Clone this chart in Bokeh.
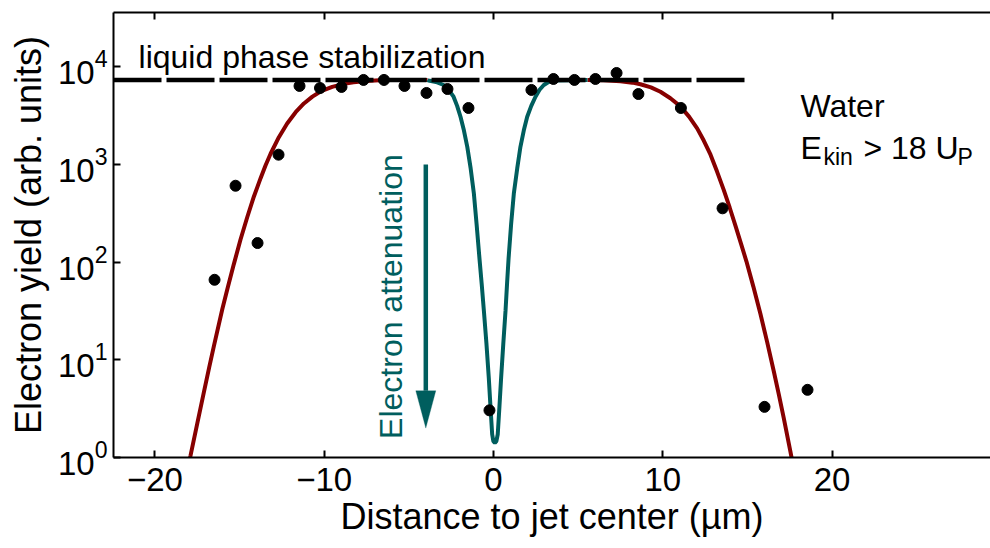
import math
from bokeh.plotting import figure
from bokeh.models import (Range1d, LinearAxis, FixedTicker, Label, PolyAnnotation)
from bokeh.embed import file_html
from bokeh.resources import INLINE

pos_x = [-16.48, -15.24, -13.94, -12.70, -11.46, -10.25, -8.98, -7.68, -6.47,
         -5.26, -3.96, -2.72, -1.48, -0.24, 2.24, 3.54, 4.78, 6.02, 7.27, 8.56,
         11.07, 13.53, 16.01, 18.55]
yield_y = [66, 606, 157, 1260, 6370, 6070, 6220, 7340, 7340, 6370, 5400, 5930,
           3790, 3.04, 5800, 7510, 7340, 7510, 8650, 5270, 3790, 356, 3.30, 4.93]

# fitted model curves
red_left_x = [-18.05, -17.90, -17.50, -17.11, -16.80, -16.52, -16.02, -15.70,
              -15.34, -14.95, -14.55, -14.16, -13.76, -13.47, -13.17, -12.68,
              -12.19, -11.69, -11.20, -10.70, -10.22, -9.53, -8.84, -8.27,
              -7.50, -6.50, -5.50, -3.90]
red_left_y = [0.794, 1.047, 2.239, 4.677, 8.318, 13.80, 33.11, 54.95, 95.50,
              169.8, 288.4, 467.7, 724.4, 977.2, 1288, 1905, 2630, 3428, 4217,
              4955, 5598, 6237, 6699, 6966, 7178, 7311, 7345, 7345]
teal_x = [-3.90, -3.84, -3.40, -2.95, -2.65, -2.36, -2.15, -1.95, -1.75, -1.55,
          -1.35, -1.16, -1.00, -0.83, -0.70, -0.57, -0.42, -0.28, -0.18, -0.08,
          -0.01, 0.08, 0.17, 0.25, 0.35, 0.45, 0.58, 0.71, 0.80, 0.89, 1.04,
          1.20, 1.40, 1.59, 1.79, 1.99, 2.23, 2.48, 2.72, 2.97, 3.25, 3.56, 5.55]
teal_y = [7345, 7244, 6998, 6516, 5821, 4943, 3981, 3083, 2239, 1517, 912, 504,
          245.5, 109.1, 60.3, 31.9, 14.8, 6.59, 3.31, 1.73, 1.472, 1.413, 1.472,
          1.73, 3.31, 6.59, 14.8, 31.9, 60.3, 109.1, 245.5, 504, 912, 1517, 2239,
          3083, 3981, 4943, 5821, 6516, 6998, 7244, 7345]
red_right_x = [5.55, 6.50, 7.50, 8.20, 8.68, 9.30, 9.86, 10.45, 11.04, 11.55,
               12.03, 12.42, 12.82, 13.20, 13.60, 13.95, 14.30, 14.62, 14.94,
               15.35, 15.77, 16.17, 16.56, 16.86, 17.15, 17.54, 17.65]
red_right_y = [7345, 7278, 7112, 6887, 6637, 6166, 5559, 4764, 3936, 3090, 2344,
               1758, 1259, 851, 550, 363, 234, 155, 102, 56.2, 29.5, 15.1, 7.59,
               4.37, 2.51, 1.148, 0.912]

stab_x = [-22.45, 14.95]
stab_y = [7340, 7340]

x_ticks = [-20, -10, 0, 10, 20]
x_tick_labels = {-20: "\u221220", -10: "\u221210", 0: "0", 10: "10", 20: "20"}
y_ticks = [1, 10, 100, 1000, 10000]

RED = "#870000"
TEAL = "#005E5E"
FONT = "Liberation Sans"

p = figure(width=990, height=548, y_axis_type="log",
           x_range=Range1d(-22.45, 29.36), y_range=Range1d(1, 36000),
           output_backend="svg", toolbar_location=None,
           min_border_left=113, min_border_right=0, min_border_top=12,
           min_border_bottom=91, outline_line_color=None)
p.grid.visible = False
p.background_fill_color = "white"
p.border_fill_color = "white"

xa = p.xaxis[0]
xa.ticker = FixedTicker(ticks=x_ticks)
xa.major_label_overrides = x_tick_labels
xa.axis_label = "Distance to jet center (\u00b5m)"
ya = p.yaxis[0]
ya.ticker = FixedTicker(ticks=y_ticks)
ya.axis_label = "Electron yield (arb. units)"

for ax in (xa, ya):
    ax.major_tick_in = 7
    ax.major_tick_out = 0
    ax.minor_tick_line_color = None
    ax.axis_line_width = 2
    ax.major_tick_line_width = 2
    ax.axis_line_color = "black"
    ax.major_tick_line_color = "black"
    ax.major_label_text_font = FONT
    ax.major_label_text_font_size = "33px"
    ax.major_label_text_color = "black"
    ax.axis_label_text_font = FONT
    ax.axis_label_text_font_style = "normal"
    ax.axis_label_text_color = "black"
    ax.axis_label_text_font_size = "36px"

xa.major_label_standoff = 10
xa.axis_label_standoff = 2
ya.major_label_standoff = 6
ya.axis_label_standoff = 6

top = LinearAxis(ticker=FixedTicker(ticks=x_ticks), major_tick_in=7,
                 major_tick_out=0, minor_tick_line_color=None,
                 axis_line_width=2, major_tick_line_width=2,
                 major_label_text_font_size="0px", major_label_standoff=0)
p.add_layout(top, "above")

# curves
p.line(red_left_x, red_left_y, line_color=RED, line_width=4)
p.line(red_right_x, red_right_y, line_color=RED, line_width=4)
p.line(teal_x, teal_y, line_color=TEAL, line_width=4)

# liquid phase stabilization level
p.line(stab_x, stab_y, line_color="black", line_width=4.5, line_dash="48 5")

# data points
p.scatter(pos_x, yield_y, size=11, color="black")

# attenuation arrow
arrow_x = -4.0
arrow_top = 1000
arrow_tip = 2.0
head_base = 4.82
head_half = 0.59
p.segment(x0=[arrow_x], y0=[arrow_top], x1=[arrow_x], y1=[head_base],
          line_color=TEAL, line_width=4.5)
p.add_layout(PolyAnnotation(xs=[arrow_x - head_half, arrow_x, arrow_x + head_half],
                            ys=[head_base, arrow_tip, head_base],
                            fill_color=TEAL, fill_alpha=1, line_color=TEAL,
                            line_width=1))

p.add_layout(Label(x=-6.03, y=1.55, text="Electron attenuation", angle=math.pi / 2,
                   text_font=FONT, text_font_size="32px", text_color=TEAL,
                   text_align="left", text_baseline="alphabetic"))
p.add_layout(Label(x=-20.97, y=12650, text="liquid phase stabilization",
                   text_font=FONT, text_font_size="32px", text_color="black",
                   text_baseline="alphabetic"))
p.add_layout(Label(x=18.13, y=3940, text="Water", text_font=FONT,
                   text_font_size="32px", text_color="black",
                   text_baseline="alphabetic"))
p.add_layout(Label(x=18.13, y=1470, text="E", text_font=FONT,
                   text_font_size="32px", text_color="black",
                   text_baseline="alphabetic"))
p.add_layout(Label(x=19.49, y=1189, text="kin", text_font=FONT,
                   text_font_size="23px", text_color="black",
                   text_baseline="alphabetic"))
p.add_layout(Label(x=21.85, y=1470, text="> 18 U", text_font=FONT,
                   text_font_size="32px", text_color="black",
                   text_baseline="alphabetic"))
p.add_layout(Label(x=27.41, y=1189, text="P", text_font=FONT,
                   text_font_size="23px", text_color="black",
                   text_baseline="alphabetic"))

open("out.html", "w").write(file_html(p, INLINE))
